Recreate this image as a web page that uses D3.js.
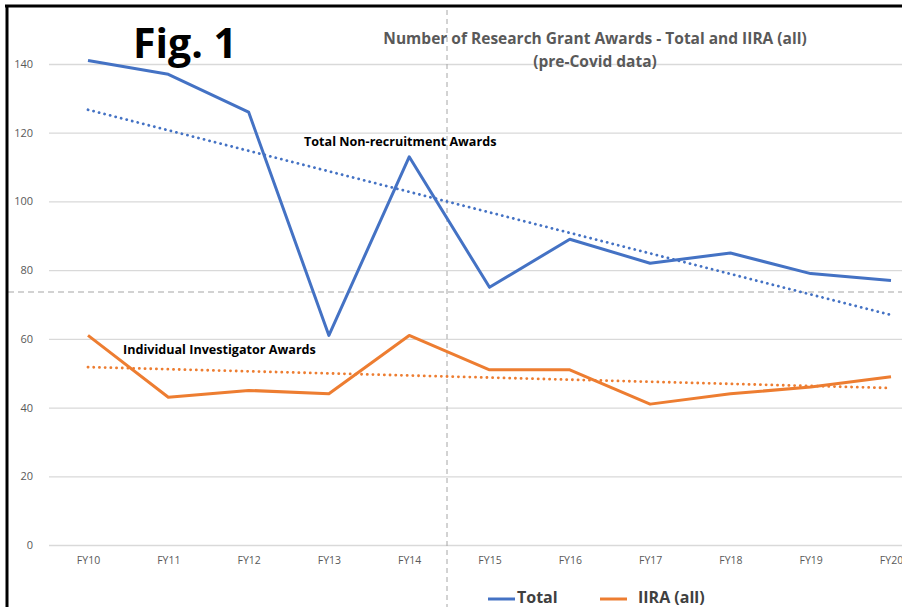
<!DOCTYPE html>
<html>
<head>
<meta charset="utf-8">
<script src="https://cdn.jsdelivr.net/npm/d3@7"></script>
<style>
    body { margin: 0; background: #fff; }
    svg { display: block; }
    .tick text { font-family: "Open Sans", sans-serif; fill: #595959; }
</style>
</head>
<body>
<svg id="chart" width="902" height="607"></svg>
<script>
// fiscal years on the x axis
var years = ["FY10", "FY11", "FY12", "FY13", "FY14", "FY15", "FY16", "FY17", "FY18", "FY19", "FY20"];
// total non-recruitment awards
var totalAwards = [141, 137, 126, 61, 113, 75, 89, 82, 85, 79, 77];
// individual investigator awards (IIRA all)
var iiraAwards = [61, 43, 45, 44, 61, 51, 51, 41, 44, 46, 49];
var yTicks = [0, 20, 40, 60, 80, 100, 120, 140];

var blue = "#4472C4", orange = "#ED7D31";
var svg = d3.select("#chart");

var x = d3.scalePoint().domain(years).range([88, 891]);
var y = d3.scaleLinear().domain([0, 140]).range([545, 64]);

// gridlines + y labels
var yAxis = d3.axisLeft(y).tickValues(yTicks).tickSize(-(902 - 49)).tickPadding(16);
var gy = svg.append("g").attr("transform", "translate(49,0)").call(yAxis);
gy.select(".domain").remove();
gy.selectAll(".tick line").attr("stroke", "#d9d9d9").attr("stroke-width", 1.3);
gy.selectAll(".tick text").attr("font-size", 11);

// x labels
var xAxis = d3.axisBottom(x).tickSize(0).tickPadding(12);
var gx = svg.append("g").attr("transform", "translate(0,545)").call(xAxis);
gx.select(".domain").remove();
gx.selectAll(".tick text").attr("font-size", 10.5).attr("font-family", "'Liberation Sans Narrow', 'Open Sans', sans-serif");

// dashed reference lines
svg.append("line").attr("x1", 447).attr("x2", 447).attr("y1", 10).attr("y2", 607)
    .attr("stroke", "#a6a6a6").attr("stroke-width", 1).attr("stroke-dasharray", "5 4");
svg.append("line").attr("x1", 8).attr("x2", 902).attr("y1", 292).attr("y2", 292)
    .attr("stroke", "#a6a6a6").attr("stroke-width", 1.2).attr("stroke-dasharray", "6 4");

// least squares trend, like the Excel linear trendline
function trend(vals) {
    var n = vals.length, mx = (n - 1) / 2, my = d3.mean(vals);
    var sxy = 0, sxx = 0;
    vals.forEach(function (v, i) { sxy += (i - mx) * (v - my); sxx += (i - mx) * (i - mx); });
    var b = sxy / sxx;
    return vals.map(function (v, i) { return my + b * (i - mx); });
}

var line = d3.line().x(function (d, i) { return x(years[i]); }).y(function (d) { return y(d); });

function drawSeries(vals, color) {
    svg.append("path").datum(trend(vals)).attr("d", line).attr("fill", "none")
        .attr("stroke", color).attr("stroke-width", 2.8)
        .attr("stroke-dasharray", "0.1 5.6").attr("stroke-linecap", "round");
    svg.append("path").datum(vals).attr("d", line).attr("fill", "none")
        .attr("stroke", color).attr("stroke-width", 3).attr("stroke-linejoin", "round");
}
drawSeries(totalAwards, blue);
drawSeries(iiraAwards, orange);

// titles
var title = svg.append("g").attr("font-family", "'Open Sans', sans-serif").attr("font-weight", "bold")
    .attr("fill", "#595959").attr("font-size", 15.5).attr("text-anchor", "middle");
title.append("text").attr("x", 595).attr("y", 44).text("Number of Research Grant Awards - Total and IIRA (all)");
title.append("text").attr("x", 595).attr("y", 67).text("(pre-Covid data)");

svg.append("text").attr("x", 133).attr("y", 58).attr("font-family", "'Open Sans', sans-serif")
    .attr("font-weight", "bold").attr("font-size", 41).attr("fill", "#000").text("Fig. 1");

// annotations
svg.append("text").attr("x", 304).attr("y", 146).attr("font-family", "'Open Sans', sans-serif")
    .attr("font-weight", "bold").attr("font-size", 12.6).attr("fill", "#000").text("Total Non-recruitment Awards");
svg.append("text").attr("x", 123).attr("y", 354).attr("font-family", "'Open Sans', sans-serif")
    .attr("font-weight", "bold").attr("font-size", 12.6).attr("fill", "#000").text("Individual Investigator Awards");

// legend
var legend = [{ name: "Total", color: blue, x: 488 }, { name: "IIRA (all)", color: orange, x: 600 }];
var lg = svg.selectAll(".lg").data(legend).enter().append("g").attr("class", "lg");
lg.append("line").attr("x1", function (d) { return d.x; }).attr("x2", function (d) { return d.x + 27; })
    .attr("y1", 599).attr("y2", 599).attr("stroke", function (d) { return d.color; }).attr("stroke-width", 3);
lg.append("text").attr("x", function (d) { return d.name === "Total" ? d.x + 29 : d.x + 38; })
    .attr("y", 603).attr("font-family", "'Open Sans', sans-serif").attr("font-weight", "bold")
    .attr("font-size", 16).attr("fill", "#404040").text(function (d) { return d.name; });

// black frame
svg.append("line").attr("x1", 5).attr("x2", 902).attr("y1", 6).attr("y2", 6).attr("stroke", "#000").attr("stroke-width", 3);
svg.append("line").attr("x1", 7).attr("x2", 7).attr("y1", 5).attr("y2", 607).attr("stroke", "#000").attr("stroke-width", 3);
</script>
</body>
</html>
